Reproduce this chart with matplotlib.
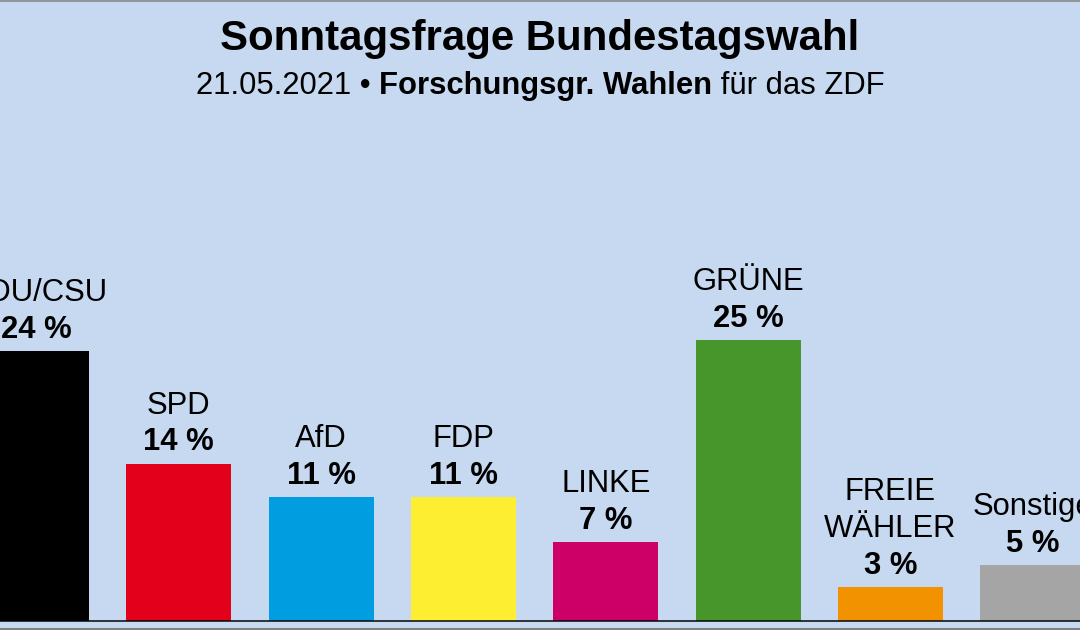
import matplotlib
matplotlib.use("Agg")
import matplotlib.pyplot as plt
from matplotlib.lines import Line2D

parties = ["CDU/CSU", "SPD", "AfD", "FDP", "LINKE", "GRÜNE", "FREIE\nWÄHLER", "Sonstige"]
values = [24, 14, 11, 11, 7, 25, 3, 5]
colors = ["#000000", "#e2001a", "#009ee0", "#fdee31", "#cc0066", "#46962b", "#f29200", "#a5a5a5"]
value_labels = [f"{v} %" for v in values]

title = "Sonntagsfrage Bundestagswahl"
subtitle_date = "21.05.2021 • "
subtitle_inst = "Forschungsgr. Wahlen"
subtitle_tail = " für das ZDF"

BG = "#c6d9f0"
DPI = 72
fig = plt.figure(figsize=(1080 / DPI, 630 / DPI), dpi=DPI, facecolor=BG)
plt.rcParams["font.family"] = ["Liberation Sans", "DejaVu Sans"]

ax = fig.add_axes([0, 9 / 630, 1, 621 / 630])
ax.set_facecolor(BG)
step = 142.3
x0 = 36.5
ax.set_xlim(-x0 / step, (1080 - x0) / step)
ax.set_ylim(0, 621 / 11.25)
for s in ax.spines.values():
    s.set_visible(False)
ax.set_xticks([])
ax.set_yticks([])

xs = list(range(len(parties)))
ax.bar(xs, values, width=105 / step, color=colors, zorder=2)
ax.axhline(0, color="black", lw=1.5, zorder=3, clip_on=False)

fs = 31
for x, v, name, lab in zip(xs, values, parties, value_labels):
    ax.annotate(lab, (x, v), xytext=(0, 13), textcoords="offset points",
                ha="center", va="baseline", fontsize=fs, fontweight="bold",
                annotation_clip=False)
    lines = name.split("\n")[::-1]
    for k, ln in enumerate(lines):
        ax.annotate(ln, (x, v), xytext=(0, 13 + 37 * (k + 1)), textcoords="offset points",
                    ha="center", va="baseline", fontsize=fs, annotation_clip=False)

# title
fig.text(0.5, 1 - 50 / 630, title, ha="center", va="baseline", fontsize=42, fontweight="bold")

# subtitle with mixed weights
r = fig.canvas.get_renderer()
sfs = 31
parts = [(subtitle_date, "normal"), (subtitle_inst, "bold"), (subtitle_tail, "normal")]
tmp = []
total = 0
for t, w in parts:
    tt = fig.text(0, 0, t, fontsize=sfs, fontweight=w)
    bb = tt.get_window_extent(renderer=r)
    tmp.append(bb.width)
    total += bb.width
    tt.remove()
xpos = (1080 - total) / 2
for (t, w), wdt in zip(parts, tmp):
    fig.text(xpos / 1080, 1 - 94 / 630, t, ha="left", va="baseline", fontsize=sfs, fontweight=w)
    xpos += wdt

# frame lines top and bottom
fig.add_artist(Line2D([0, 1], [1 - 0.5 / 630, 1 - 0.5 / 630], transform=fig.transFigure, color="#808080", lw=1.5))
fig.add_artist(Line2D([0, 1], [1.2 / 630, 1.2 / 630], transform=fig.transFigure, color="#808080", lw=2))

fig.savefig("out.png", dpi=DPI, facecolor=BG)
